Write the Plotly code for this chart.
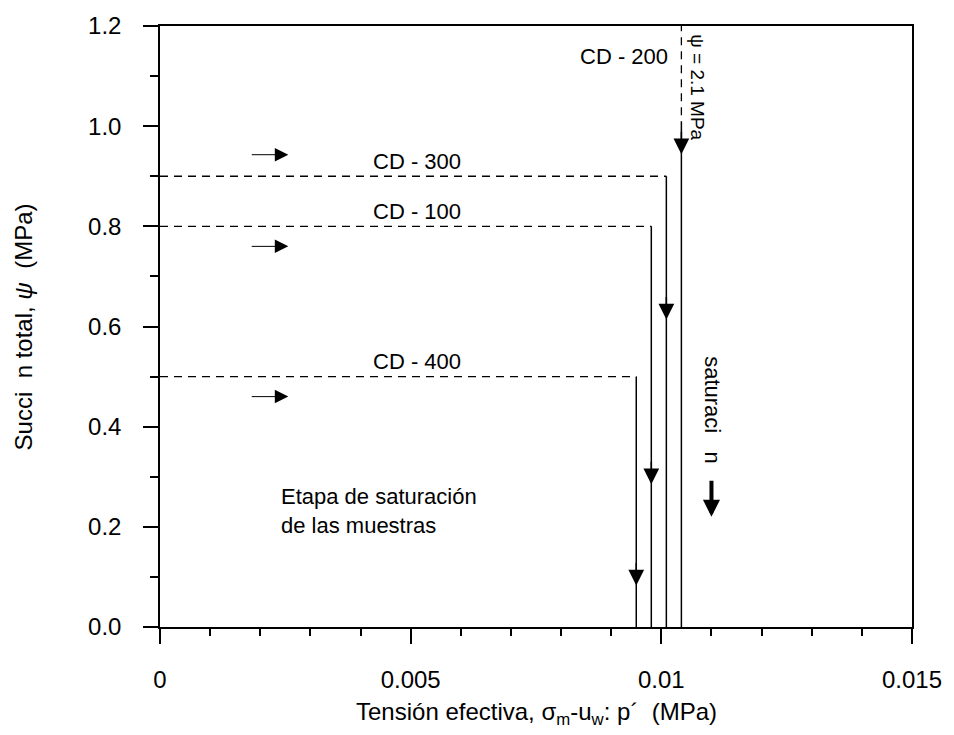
import plotly.graph_objects as go

# ---------------- data ----------------
labels = ["CD - 400", "CD - 100", "CD - 300", "CD - 200"]
p_eff = [0.0095, 0.0098, 0.0101, 0.0104]          # effective stress p' (MPa)
psi_start = [0.5, 0.8, 0.9, 2.1]                  # initial total suction (MPa)
psi_arrow = [0.083, 0.285, 0.614, 0.944]          # arrow-head positions on each path
cd200_psi_solid = 1.01                            # CD-200: dashed above, solid below
hint_arrow_psi = [0.943, 0.76, 0.46]              # small "→" arrows
hint_arrow_p = [0.0018, 0.00256]                  # tail, tip
sat_arrow_p = 0.011
sat_arrow_psi = [0.295, 0.22]                     # tail, tip

x_ticks = [0, 0.005, 0.01, 0.015]
x_ticktext = ["0", "0.005", "0.01", "0.015"]
y_ticks = [0.0, 0.2, 0.4, 0.6, 0.8, 1.0, 1.2]

FONT = "Liberation Sans, Arial, sans-serif"
BLACK = "black"

fig = go.Figure()

# paths
for lab, p, ps in zip(labels, p_eff, psi_start):
    if lab == "CD - 200":
        dash_x, dash_y = [p, p], [ps, cd200_psi_solid]
        solid_top = cd200_psi_solid
    else:
        dash_x, dash_y = [0, p], [ps, ps]
        solid_top = ps
    fig.add_trace(go.Scatter(x=dash_x, y=dash_y, mode="lines",
                             line=dict(color=BLACK, width=1.3, dash="8px,6px"),
                             showlegend=False, hoverinfo="skip"))
    fig.add_trace(go.Scatter(x=[p, p], y=[solid_top, 0], mode="lines",
                             line=dict(color=BLACK, width=1.5),
                             showlegend=False, hoverinfo="skip"))

annotations = []

# arrow heads on the vertical paths
for p, pa in zip(p_eff, psi_arrow):
    annotations.append(dict(x=p, y=pa, xref="x", yref="y", text="",
                            showarrow=True, arrowhead=2, arrowsize=2.1,
                            arrowwidth=1.5, arrowcolor=BLACK,
                            ax=0, ay=-24))

# small horizontal arrows
for hp in hint_arrow_psi:
    annotations.append(dict(x=hint_arrow_p[1], y=hp, xref="x", yref="y",
                            ax=hint_arrow_p[0], ay=hp, axref="x", ayref="y",
                            text="", showarrow=True, arrowhead=2,
                            arrowsize=2.7, arrowwidth=1, arrowcolor=BLACK))

# thick saturation arrow
annotations.append(dict(x=sat_arrow_p, y=sat_arrow_psi[1], xref="x", yref="y",
                        ax=sat_arrow_p, ay=sat_arrow_psi[0], axref="x", ayref="y",
                        text="", showarrow=True, arrowhead=2, arrowsize=0.85,
                        arrowwidth=4, arrowcolor=BLACK))

# path labels
for lab, p, ps in zip(labels, p_eff, psi_start):
    if lab == "CD - 200":
        annotations.append(dict(x=p, y=1.14, xref="x", yref="y", text=lab,
                                showarrow=False, xanchor="right", yanchor="middle",
                                xshift=-11, font=dict(size=22, family=FONT, color=BLACK)))
    else:
        annotations.append(dict(x=0.0042, y=ps, xref="x", yref="y", text=lab,
                                showarrow=False, xanchor="left", yanchor="middle",
                                yshift=15, font=dict(size=22, family=FONT, color=BLACK)))

annotations.append(dict(x=p_eff[3], y=1.077, xref="x", yref="y",
                        text="ψ = 2.1 MPa", textangle=90, showarrow=False,
                        xanchor="center", yanchor="middle", xshift=16,
                        font=dict(size=19, family=FONT, color=BLACK)))
annotations.append(dict(x=sat_arrow_p, y=0.432, xref="x", yref="y",
                        text="saturaci\u00a0\u00a0\u00a0n", textangle=90, showarrow=False,
                        xanchor="center", yanchor="middle", xshift=1,
                        font=dict(size=22, family=FONT, color=BLACK)))
annotations.append(dict(x=0.00238, y=0.232, xref="x", yref="y",
                        text="Etapa de saturación<br>de las muestras",
                        showarrow=False, xanchor="left", yanchor="middle", align="left",
                        font=dict(size=22, family=FONT, color=BLACK)))

# axis titles
annotations.append(dict(x=0.5, y=-0.1436, xref="paper", yref="paper",
                        text="Tensión efectiva, σ<sub>m</sub>-u<sub>w</sub>: p´\u00a0\u00a0(MPa)",
                        showarrow=False, xanchor="center", yanchor="middle",
                        font=dict(size=24, family=FONT, color=BLACK)))
annotations.append(dict(x=-0.181, y=0.5, xref="paper", yref="paper",
                        text="Succi\u00a0\u00a0n total, <i>ψ</i>\u00a0\u00a0(MPa)",
                        textangle=-90, showarrow=False, xanchor="center", yanchor="middle",
                        font=dict(size=24, family=FONT, color=BLACK)))

axis_common = dict(showline=True, linecolor=BLACK, linewidth=1.5, mirror=True,
                   showgrid=False, zeroline=False, ticks="outside", ticklen=15,
                   tickwidth=1.5, tickcolor=BLACK,
                   tickfont=dict(size=24, family=FONT, color=BLACK))

fig.update_layout(
    width=954, height=735,
    margin=dict(l=160, r=39, t=21, b=108),
    paper_bgcolor="white", plot_bgcolor="white",
    xaxis=dict(range=[0, 0.015], tickvals=x_ticks, ticktext=x_ticktext,
               minor=dict(dtick=0.001, tick0=0, ticks="outside", ticklen=7,
                          tickwidth=1.5, tickcolor=BLACK),
               ticklabelstandoff=15, **axis_common),
    yaxis=dict(range=[0, 1.2], tickvals=y_ticks, tickformat=".1f",
               minor=dict(dtick=0.1, tick0=0, ticks="outside", ticklen=8,
                          tickwidth=1.5, tickcolor=BLACK),
               ticklabelstandoff=17, **axis_common),
    annotations=annotations,
    showlegend=False,
)

fig.write_html("out.html")
